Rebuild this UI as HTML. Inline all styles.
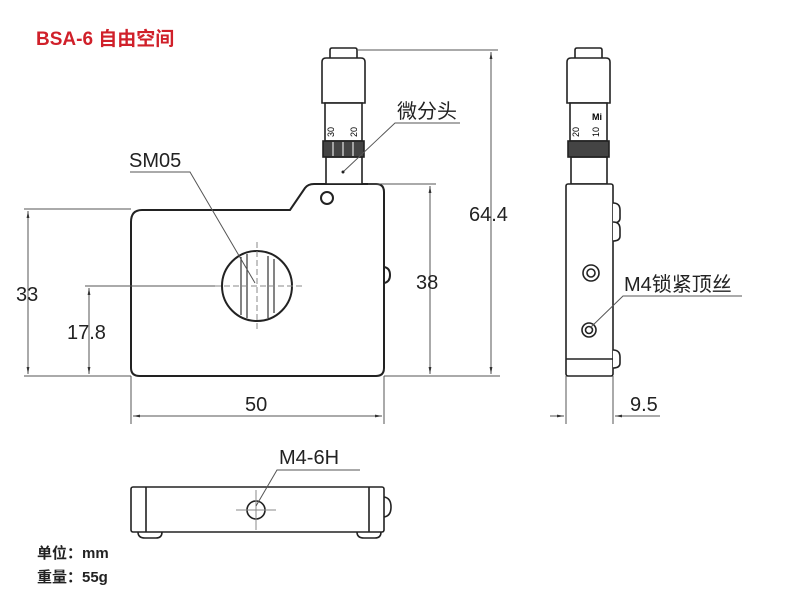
<!DOCTYPE html>
<html><head><meta charset="utf-8"><style>
html,body{margin:0;padding:0;background:#fff}
svg{display:block}
text{font-family:"Liberation Sans","Noto Sans CJK SC",sans-serif}
</style></head><body>
<svg width="796" height="594" viewBox="0 0 796 594" xmlns="http://www.w3.org/2000/svg">
<defs>
<marker id="a" viewBox="0 0 10 10" refX="10" refY="5" markerWidth="7" markerHeight="7" orient="auto-start-reverse"><path d="M0,3 L10,5 L0,7 z" fill="#333"/></marker>
</defs>
<text x="36" y="45" font-size="19" font-weight="bold" fill="#d0202a">BSA-6 自由空间</text>

<g fill="none" stroke="#222" stroke-width="2">
<path d="M142,210 L290,210 L305,188 Q308,184 314,184 L376,184 Q384,184 384,192 L384,368 Q384,376 376,376 L140,376 Q131,376 131,368 L131,222 Q131,210 142,210 Z"/>
<circle cx="257" cy="286" r="35"/>
<circle cx="327" cy="198" r="6"/>
<path d="M384,267 Q390,268 390,275 Q390,282 384,283"/>
</g>
<g stroke="#333" stroke-width="1.2">
<line x1="241" y1="257" x2="241" y2="315"/><line x1="247" y1="254" x2="247" y2="318"/>
<line x1="268" y1="256" x2="268" y2="318"/><line x1="274" y1="259" x2="274" y2="313"/>
</g>
<g stroke="#888" stroke-width="1" stroke-dasharray="6,3">
<line x1="215" y1="286" x2="302" y2="286"/><line x1="257" y1="242" x2="257" y2="332"/>
</g>
<g fill="#fff" stroke="#222" stroke-width="1.6">
<rect x="326" y="157" width="36" height="27"/>
<path d="M330,58 L330,50 Q330,48 332,48 L355,48 Q357,48 357,50 L357,58"/>
<path d="M322,62 Q322,58 326,58 L361,58 Q365,58 365,62 L365,103 L322,103 Z"/>
<rect x="325" y="103" width="37" height="38"/>
<rect x="323" y="141" width="41" height="16" fill="#444"/>
</g>
<g stroke="#fff" stroke-width="1"><line x1="333" y1="142" x2="333" y2="156"/><line x1="343" y1="142" x2="343" y2="156"/><line x1="353" y1="142" x2="353" y2="156"/></g>
<text x="0" y="0" font-size="9" transform="translate(334,137) rotate(-90)">30</text>
<text x="0" y="0" font-size="9" transform="translate(357,137) rotate(-90)">20</text>

<g fill="#fff" stroke="#222" stroke-width="1.6">
<rect x="571" y="157" width="36" height="27"/>
<path d="M575,58 L575,50 Q575,48 577,48 L600,48 Q602,48 602,50 L602,58"/>
<path d="M567,62 Q567,58 571,58 L606,58 Q610,58 610,62 L610,103 L567,103 Z"/>
<rect x="570" y="103" width="37" height="38"/>
<rect x="568" y="141" width="41" height="16" fill="#444"/>
<rect x="566" y="184" width="47" height="192" rx="2"/>
<path d="M613,203 Q620,203 620,210 L620,218 Q620,223 613,223"/>
<path d="M613,222 Q620,222 620,229 L620,236 Q620,241 613,241"/>
<path d="M613,350 Q620,350 620,357 L620,363 Q620,368 613,368"/>
<circle cx="591" cy="273" r="8"/><circle cx="591" cy="273" r="4"/>
<circle cx="589" cy="330" r="7"/><circle cx="589" cy="330" r="3.5"/>
</g>
<line x1="566" y1="359" x2="613" y2="359" stroke="#222" stroke-width="1.4"/>
<text x="0" y="0" font-size="9" transform="translate(579,137) rotate(-90)">20</text>
<text x="0" y="0" font-size="9" transform="translate(599,137) rotate(-90)">10</text>
<text x="592" y="120" font-size="9" font-weight="bold">Mi</text>

<g fill="#fff" stroke="#222" stroke-width="1.6">
<path d="M138,532 Q138,538 145,538 L156,538 Q162,538 162,532"/>
<path d="M357,532 Q357,538 364,538 L375,538 Q381,538 381,532"/>
<path d="M384,497 Q391,498 391,507 Q391,516 384,517"/>
<rect x="131" y="487" width="253" height="45" rx="2"/>
<line x1="146" y1="487" x2="146" y2="532"/><line x1="369" y1="487" x2="369" y2="532"/>
<circle cx="256" cy="510" r="9"/>
</g>
<g stroke="#888" stroke-width="1"><line x1="236" y1="510" x2="276" y2="510"/><line x1="256" y1="490" x2="256" y2="530"/></g>

<g stroke="#555" stroke-width="1" fill="none">
<line x1="24" y1="209" x2="131" y2="209"/><line x1="24" y1="376" x2="131" y2="376"/>
<line x1="28" y1="211" x2="28" y2="374" marker-start="url(#a)" marker-end="url(#a)"/>
<line x1="85" y1="286" x2="215" y2="286"/>
<line x1="89" y1="288" x2="89" y2="374" marker-start="url(#a)" marker-end="url(#a)"/>
<line x1="368" y1="184" x2="436" y2="184"/><line x1="384" y1="376" x2="500" y2="376"/>
<line x1="430" y1="186" x2="430" y2="374" marker-start="url(#a)" marker-end="url(#a)"/>
<line x1="357" y1="50" x2="498" y2="50"/>
<line x1="491" y1="52" x2="491" y2="374" marker-start="url(#a)" marker-end="url(#a)"/>
<line x1="131" y1="376" x2="131" y2="424"/><line x1="384" y1="376" x2="384" y2="424"/>
<line x1="133" y1="416" x2="382" y2="416" marker-start="url(#a)" marker-end="url(#a)"/>
<line x1="566" y1="376" x2="566" y2="424"/><line x1="613" y1="376" x2="613" y2="424"/>
<line x1="550" y1="416" x2="564" y2="416" marker-end="url(#a)"/>
<line x1="660" y1="416" x2="615" y2="416" marker-end="url(#a)"/>
<polyline points="130,172 190,172 255,283"/>
<polyline points="460,123 395,123 343,172"/>
<polyline points="742,296 623,296 590,328"/>
<polyline points="360,470 277,470 256,506"/>
</g>
<circle cx="343" cy="172" r="1.5" fill="#222"/>

<g font-size="20" fill="#222">
<text x="16" y="301">33</text>
<text x="67" y="339">17.8</text>
<text x="416" y="289">38</text>
<text x="469" y="221">64.4</text>
<text x="245" y="411">50</text>
<text x="630" y="411">9.5</text>
<text x="129" y="167">SM05</text>
<text x="397" y="118">微分头</text>
<text x="624" y="291">M4锁紧顶丝</text>
<text x="279" y="464">M4-6H</text>
</g>
<g font-size="15" font-weight="bold" fill="#222">
<text x="37" y="558">单位：mm</text>
<text x="37" y="582">重量：55g</text>
</g>
</svg>
</body></html>
